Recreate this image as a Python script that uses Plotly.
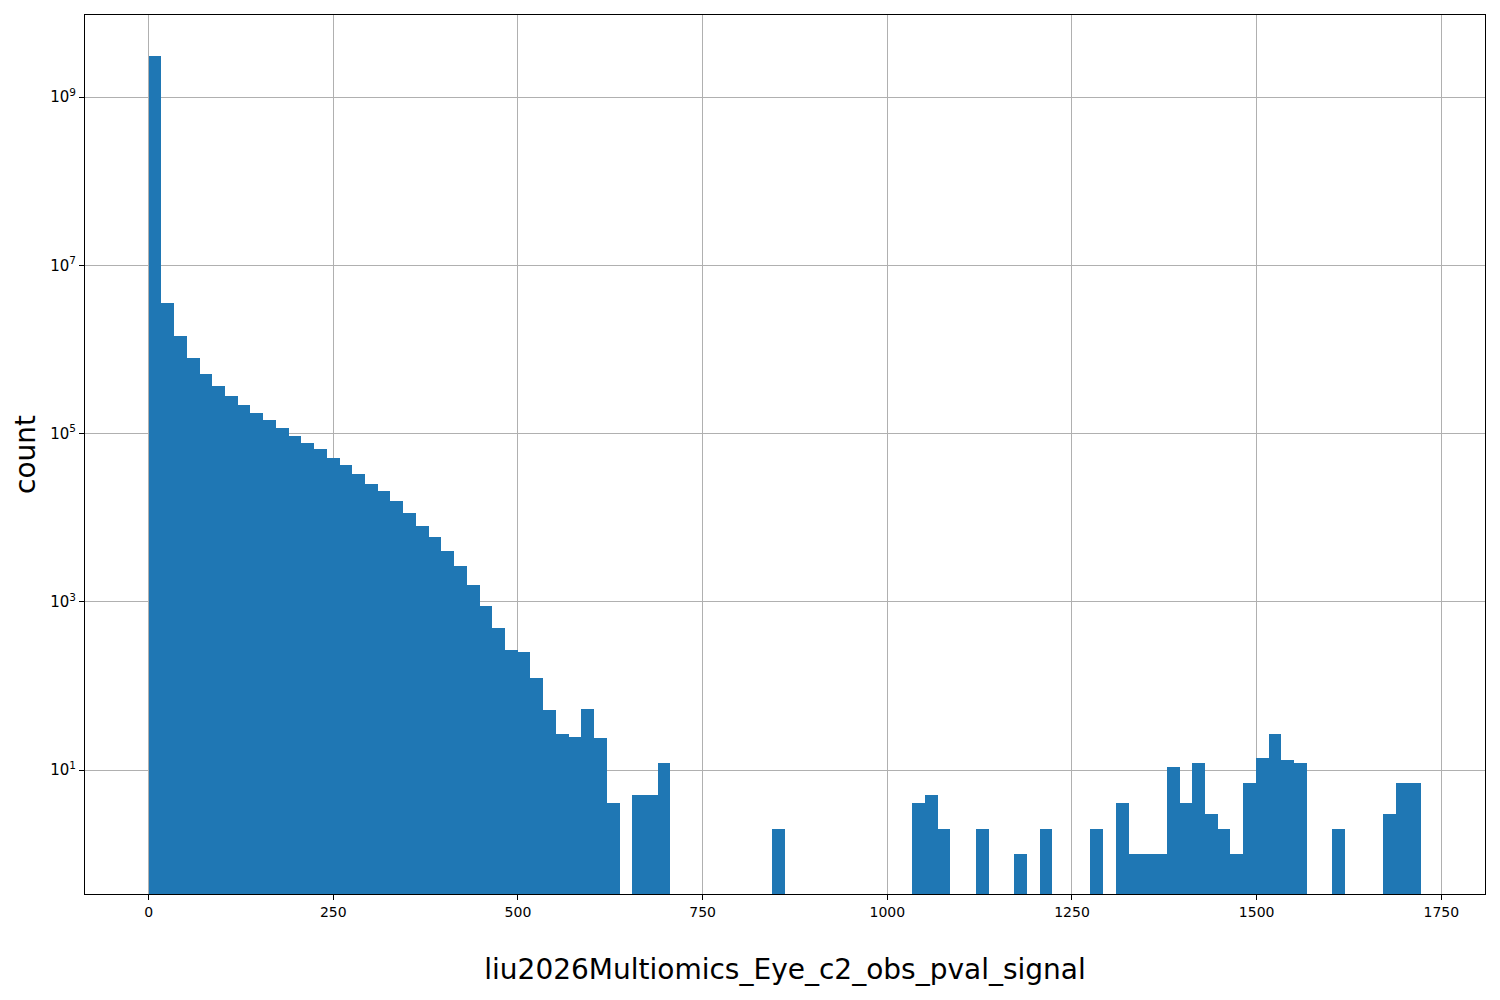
import plotly.graph_objects as go

# histogram of liu2026Multiomics_Eye_c2_obs_pval_signal: 100 equal bins
data_min = 0.0
data_max = 1723.0
n_bins = 100

counts = [
    3.1e9, 3.6e6, 1.43e6, 7.8e5, 5.05e5, 3.64e5, 2.77e5, 2.16e5, 1.74e5, 1.43e5,
    1.15e5, 9.3e4, 7.65e4, 6.49e4, 5.07e4, 4.19e4, 3.27e4, 2.49e4, 2.06e4, 1.57e4,
    1.13e4, 7900, 5850, 3990, 2650, 1570, 888, 486, 266, 252,
    124, 52, 27, 25, 53, 24, 4, 0, 5, 5,
    12, 0, 0, 0, 0, 0, 0, 0, 0, 2,
    0, 0, 0, 0, 0, 0, 0, 0, 0, 0,
    4, 5, 2, 0, 0, 2, 0, 0, 1, 0,
    2, 0, 0, 0, 2, 0, 4, 1, 1, 1,
    11, 4, 12, 3, 2, 1, 7, 14, 27, 13,
    12, 0, 0, 2, 0, 0, 0, 3, 7, 7,
]

x_ticks = [0, 250, 500, 750, 1000, 1250, 1500, 1750]
y_ticks = [1e1, 1e3, 1e5, 1e7, 1e9]
y_tick_labels = ["10<sup>1</sup>", "10<sup>3</sup>", "10<sup>5</sup>", "10<sup>7</sup>", "10<sup>9</sup>"]

x_label = "liu2026Multiomics_Eye_c2_obs_pval_signal"
y_label = "count"

bin_w = (data_max - data_min) / n_bins
centers = [data_min + bin_w * (i + 0.5) for i in range(n_bins)]
ys = [c if c > 0 else None for c in counts]

fig = go.Figure(go.Bar(
    x=centers, y=ys, width=bin_w,
    marker=dict(color="#1f77b4", line=dict(width=0)),
    hoverinfo="x+y",
))

span = data_max - data_min
font_family = "DejaVu Sans"
fig.update_layout(
    width=1484, height=984,
    margin=dict(l=77, r=7, t=7, b=98, autoexpand=False),
    paper_bgcolor="white", plot_bgcolor="white",
    bargap=0, showlegend=False,
    font=dict(family=font_family, color="black", size=14),
)
fig.update_xaxes(
    range=[data_min - 0.05 * span, data_max + 0.05 * span],
    tickvals=x_ticks, ticks="outside", ticklen=5, tickwidth=1, tickcolor="black",
    tickfont=dict(size=14, family=font_family),
    showgrid=True, gridcolor="#b0b0b0", gridwidth=1,
    showline=True, linecolor="black", linewidth=1, mirror=True,
    zeroline=False,
    title=dict(text=x_label, font=dict(size=28, family=font_family), standoff=40),
)
fig.update_yaxes(
    type="log", range=[-0.474, 9.975],
    tickvals=y_ticks, ticktext=y_tick_labels,
    ticks="outside", ticklen=5, tickwidth=1, tickcolor="black",
    tickfont=dict(size=15, family=font_family),
    showgrid=True, gridcolor="#b0b0b0", gridwidth=1,
    showline=True, linecolor="black", linewidth=1, mirror=True,
    zeroline=False,
    title=dict(text=y_label, font=dict(size=28, family=font_family), standoff=6),
)

fig.write_html("out.html")
